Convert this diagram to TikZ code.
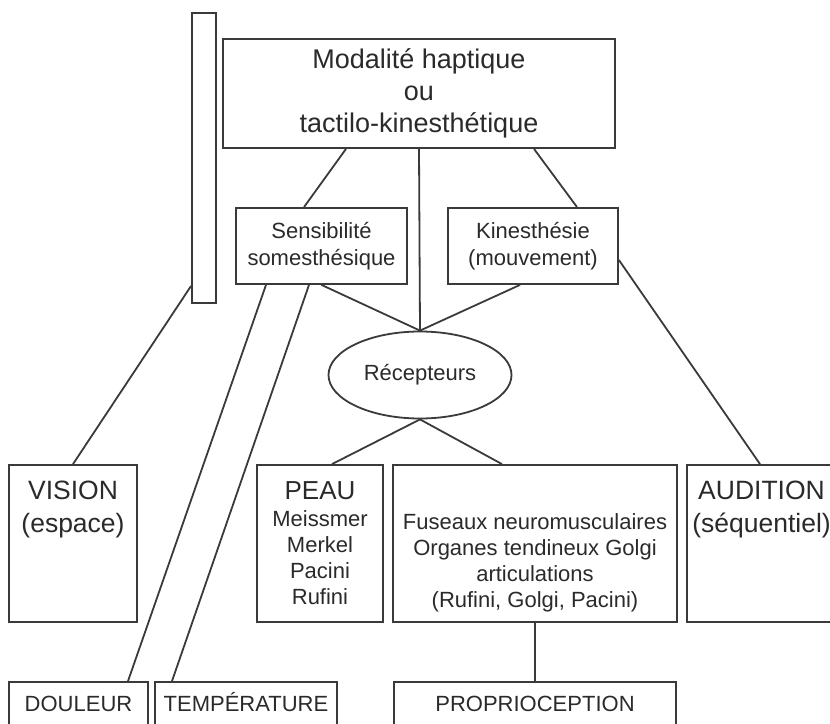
\documentclass[tikz,border=0pt]{standalone}
\usepackage{fontspec}
\setmainfont{Liberation Sans}
\usetikzlibrary{shapes.geometric, positioning}
\definecolor{linec}{HTML}{3A3A3A}
\definecolor{textc}{HTML}{2A2A2A}
\newcommand{\fsz}[2]{\fontsize{#1}{#2}\selectfont}

\tikzstyle{block} = [rectangle, 
draw=linec, 
line width=1.8pt, 
inner sep=0pt, 
text=textc, 
align=center]
\tikzstyle{sense} = [block, 
minimum height=44pt, 
font=\fsz{22}{26}, 
text height=15.8pt, 
text depth=0pt]
\tikzstyle{oval} = [ellipse, 
draw=linec, 
line width=1.8pt, 
inner sep=0pt, 
text=textc]
\tikzstyle{txt} = [inner sep=0pt, text=textc, align=center]
\tikzstyle{conn} = [draw=linec, line width=1.8pt]

\begin{document}
\begin{tikzpicture}[x=1pt, y=-1pt]
\useasboundingbox (0,0) rectangle (830,723);
\clip (0,0) rectangle (830,723);

\node (modalite) [block, minimum width=392pt, minimum height=109pt, 
                 font=\fsz{27}{32}] at (419,93.5) 
                 {Modalité haptique\\ou\\tactilo-kinesthétique};
\node (barre) [block, minimum width=24pt, minimum height=290pt] at (204,158) {};

\node (sensib) [block, minimum width=171pt, minimum height=76pt, 
               font=\fsz{22}{27}] at (321.5,246) {Sensibilité\\somesthésique};
\node (kines) [block, minimum width=170pt, minimum height=76pt, 
              font=\fsz{22}{27}] at (533,246) {Kinesthésie\\(mouvement)};

\node (recep) [oval, minimum width=183pt, minimum height=87pt, 
              font=\fsz{22}{26}] at (420,375) {Récepteurs};

\node (vision) [block, minimum width=128pt, minimum height=157pt] at (73,543.5) {};
\node (vision_txt) [txt, font=\fsz{26.5}{33}, below=16.5pt of vision.north] 
                   {VISION\\(espace)};
\node (peau) [block, minimum width=126pt, minimum height=157pt, 
             font=\fsz{22}{26.3}] at (320,543.5) 
             {{\fsz{26}{26.3}PEAU}\\Meissmer\\Merkel\\Pacini\\Rufini};
\node (fuseaux) [block, minimum width=284pt, minimum height=157pt] at (535,543.5) {};
\node (fuseaux_txt) [txt, font=\fsz{22}{26}, below=49pt of fuseaux.north] 
                    {Fuseaux neuromusculaires\\Organes tendineux Golgi\\articulations\\(Rufini, Golgi, Pacini)};
\node (audition) [block, minimum width=149pt, minimum height=157pt] at (761.5,543.5) {};
\node (audition_txt) [txt, font=\fsz{26.5}{33}, below=16.5pt of audition.north] 
                     {AUDITION\\(séquentiel)};

\node (douleur) [sense, minimum width=139pt] at (78.5,704) {DOULEUR};
\node (temper) [sense, minimum width=182pt] at (246,704) {TEMPÉRATURE};
\node (proprio) [sense, minimum width=282pt] at (535,704) {PROPRIOCEPTION};

\draw [conn] ([xshift=-73pt]modalite.south) -- ([xshift=-17.5pt]sensib.north);
\draw [conn] ([xshift=115pt]modalite.south) -- ([xshift=44pt]kines.north);
\draw [conn] (modalite.south) -- (recep.north);
\draw [conn] (sensib.south) -- (recep.north);
\draw [conn] ([xshift=-13pt]kines.south) -- (recep.north);
\draw [conn] (recep.south) -- ([xshift=12pt]peau.north);
\draw [conn] (recep.south) -- ([xshift=-33pt]fuseaux.north);
\draw [conn] (fuseaux.south) -- (proprio.north);
\draw [conn] ([xshift=-55.5pt]sensib.south) -- ([xshift=49.5pt]douleur.north);
\draw [conn] ([xshift=-12.5pt]sensib.south) -- ([xshift=-74pt]temper.north);
\draw [conn] ([yshift=18pt]barre.south west) -- (vision.north);
\draw [conn] ([yshift=-14pt]kines.east) -- ([xshift=-1.5pt]audition.north);

\end{tikzpicture}
\end{document}
